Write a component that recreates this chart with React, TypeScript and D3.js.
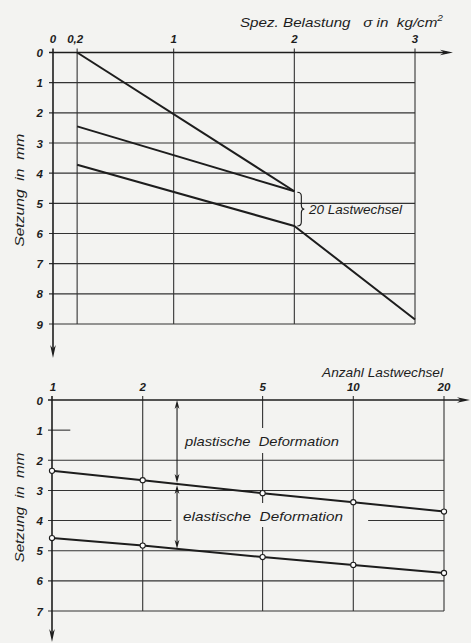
import * as d3 from "d3";

// top chart: load (kg/cm²) vs settlement (mm)
const stressTicks = [0, 0.2, 1, 2, 3];
const stressTickLabels = ["0", "0,2", "1", "2", "3"];
const settleTicksTop = [0, 1, 2, 3, 4, 5, 6, 7, 8, 9];
const firstLoading = [
  { s: 0.2, d: 0 },
  { s: 2, d: 4.6 },
];
const unloading = [
  { s: 0.2, d: 2.45 },
  { s: 2, d: 4.6 },
];
const reloading = [
  { s: 0.2, d: 3.72 },
  { s: 2, d: 5.75 },
  { s: 3, d: 8.85 },
];

// bottom chart: number of load cycles vs settlement
const cycleTicks = [1, 2, 5, 10, 20];
const settleTicksBottom = [0, 1, 2, 3, 4, 5, 6, 7];
const plasticSettle = [2.35, 2.66, 3.09, 3.39, 3.7];
const totalSettle = [4.58, 4.83, 5.21, 5.47, 5.74];
// grid rows that are only partly drawn (cycle ranges)
const partialRows = [
  { d: 1, spans: [[1, 1.15]] },
  { d: 4, spans: [[1, 2.49], [11.2, 20]] },
];
const dimensionAt = 2.6;

const ink = "#1d1d1d";
const gridInk = "#333";
const paper = "#f3f3f1";
const font = "'Liberation Sans', Arial, sans-serif";

function Arrow({ x, y, dir, len = 12, half = 3 }: { x: number; y: number; dir: "right" | "down" | "up"; len?: number; half?: number }) {
  let pts: [number, number][];
  if (dir === "right") pts = [[x, y], [x - len, y - half], [x - len * 0.7, y], [x - len, y + half]];
  else if (dir === "down") pts = [[x, y], [x - half, y - len], [x, y - len * 0.7], [x + half, y - len]];
  else pts = [[x, y], [x - half, y + len], [x, y + len * 0.7], [x + half, y + len]];
  return <polygon points={pts.map((p) => p.join(",")).join(" ")} fill={ink} />;
}

export default function App() {
  const xT = d3.scaleLinear().domain([0, 3]).range([53, 415]);
  const yT = d3.scaleLinear().domain([0, 9]).range([52.5, 324]);
  const xB = d3.scaleLog().domain([1, 20]).range([52, 444]);
  const yB = d3.scaleLinear().domain([0, 7]).range([400, 611]);

  const lineT = d3
    .line<{ s: number; d: number }>()
    .x((p) => xT(p.s))
    .y((p) => yT(p.d));
  const lineB = d3
    .line<number>()
    .x((_, i) => xB(cycleTicks[i]))
    .y((v) => yB(v));

  // settlement on a series at a given cycle count (log interpolation)
  const valueAt = (series: number[], n: number) => {
    const i = d3.bisectRight(cycleTicks, n) - 1;
    const t = Math.log(n / cycleTicks[i]) / Math.log(cycleTicks[i + 1] / cycleTicks[i]);
    return series[i] + t * (series[i + 1] - series[i]);
  };

  const tickText = { fontFamily: font, fontStyle: "italic", fontWeight: 700, fontSize: 11.5, fill: ink } as const;
  const labelText = { fontFamily: font, fontStyle: "italic", fontSize: 13.5, fill: ink, style: { whiteSpace: "pre" } } as const;

  const dimX = xB(dimensionAt);
  const dimMid = yB(valueAt(plasticSettle, dimensionAt));
  const dimEnd = yB(valueAt(totalSettle, dimensionAt));

  const braceX = xT(2) + 3;
  const b0 = yT(4.6) + 1;
  const b1 = yT(5.75);
  const bm = (b0 + b1) / 2;

  return (
    <div style={{ position: "absolute", left: 0, top: 0 }}>
      <svg width={471} height={643} viewBox="0 0 471 643" style={{ display: "block", background: paper }}>
        {/* ---------- top chart ---------- */}
        <g stroke={gridInk} strokeWidth={1.1} fill="none">
          {settleTicksTop.slice(1).map((d) => (
            <line key={`h${d}`} x1={xT(0) - 4} x2={xT(3)} y1={yT(d)} y2={yT(d)} />
          ))}
          {stressTicks.slice(1).map((s) => (
            <line key={`v${s}`} x1={xT(s)} x2={xT(s)} y1={yT(0) - 4} y2={yT(9)} />
          ))}
        </g>
        <g stroke={ink} strokeWidth={1.6}>
          <line x1={xT(0) - 4} x2={447} y1={yT(0)} y2={yT(0)} />
          <line x1={xT(0)} x2={xT(0)} y1={yT(0) - 4} y2={352} />
        </g>
        <Arrow x={453} y={yT(0)} dir="right" len={13} half={2.8} />
        <Arrow x={xT(0)} y={358} dir="down" len={13} half={2.8} />

        {stressTicks.map((s, i) => (
          <text key={s} x={xT(s) - (i === 1 ? 2 : 0)} y={43} textAnchor="middle" {...tickText}>
            {stressTickLabels[i]}
          </text>
        ))}
        {settleTicksTop.map((d) => (
          <text key={d} x={43} y={yT(d) + 4.5} textAnchor="end" {...tickText}>
            {d}
          </text>
        ))}

        <g stroke={ink} strokeWidth={2} fill="none" strokeLinejoin="round">
          <path d={lineT(firstLoading) ?? ""} />
          <path d={lineT(unloading) ?? ""} />
          <path d={lineT(reloading) ?? ""} />
        </g>

        <path
          d={`M${braceX},${b0} q4,0 4,4 v${bm - b0 - 8} q0,4 3,4 q-3,0 -3,4 v${b1 - bm - 8} q0,4 -4,4`}
          stroke={ink}
          strokeWidth={1.1}
          fill="none"
        />
        <text x={309} y={bm + 5} textLength={93} lengthAdjust="spacingAndGlyphs" {...labelText} fontSize={13}>
          20 Lastwechsel
        </text>

        <text x={240} y={27} textLength={203} lengthAdjust="spacingAndGlyphs" {...labelText}>
          Spez. Belastung{"   "}σ in{"  "}kg/cm
          <tspan dy={-6} fontSize={9}>2</tspan>
        </text>
        <text
          transform={`translate(24,${(yT(0) + yT(9)) / 2 + 2}) rotate(-90)`}
          textAnchor="middle"
          textLength={113}
          lengthAdjust="spacingAndGlyphs"
          {...labelText}
        >
          Setzung{"  "}in{"  "}mm
        </text>

        {/* ---------- bottom chart ---------- */}
        <g stroke={gridInk} strokeWidth={1.1} fill="none">
          {settleTicksBottom
            .slice(1)
            .filter((d) => !partialRows.some((r) => r.d === d))
            .map((d) => (
              <line key={`h${d}`} x1={xB(1) - 4} x2={xB(20)} y1={yB(d)} y2={yB(d)} />
            ))}
          {partialRows.map((r) =>
            r.spans.map(([a, b], j) => (
              <line key={`p${r.d}-${j}`} x1={xB(a) - (a === 1 ? 4 : 0)} x2={xB(b)} y1={yB(r.d)} y2={yB(r.d)} />
            ))
          )}
          {cycleTicks.slice(1).map((n) => (
            <line key={`v${n}`} x1={xB(n)} x2={xB(n)} y1={yB(0) - 4} y2={yB(7)} />
          ))}
        </g>

        {/* label masks */}
        <rect x={183} y={428} width={160} height={25} fill={paper} />
        <rect x={181} y={503} width={166} height={24} fill={paper} />

        <g stroke={ink} strokeWidth={1.6}>
          <line x1={xB(1) - 4} x2={464} y1={yB(0)} y2={yB(0)} />
          <line x1={xB(1)} x2={xB(1)} y1={yB(0) - 4} y2={636} />
        </g>
        <Arrow x={470} y={yB(0)} dir="right" len={13} half={2.8} />
        <Arrow x={xB(1)} y={642} dir="down" len={13} half={2.8} />

        {cycleTicks.map((n) => (
          <text key={n} x={xB(n) + (n === 1 ? 1 : 0)} y={391} textAnchor="middle" {...tickText}>
            {n}
          </text>
        ))}
        {settleTicksBottom.map((d) => (
          <text key={d} x={43} y={yB(d) + 4.5} textAnchor="end" {...tickText}>
            {d}
          </text>
        ))}

        <g stroke={ink} strokeWidth={2} fill="none">
          <path d={lineB(plasticSettle) ?? ""} />
          <path d={lineB(totalSettle) ?? ""} />
        </g>
        {[plasticSettle, totalSettle].map((series, k) =>
          series.map((v, i) => (
            <circle key={`c${k}-${i}`} cx={xB(cycleTicks[i])} cy={yB(v)} r={2.6} fill="#fff" stroke={ink} strokeWidth={1.1} />
          ))
        )}

        {/* dimension arrows */}
        <g stroke={ink} strokeWidth={1.1}>
          <line x1={dimX} x2={dimX} y1={yB(0) + 4} y2={dimMid - 4} />
          <line x1={dimX} x2={dimX} y1={dimMid + 4} y2={dimEnd - 4} />
        </g>
        <Arrow x={dimX} y={yB(0)} dir="up" len={9} half={2.4} />
        <Arrow x={dimX} y={dimMid - 1} dir="down" len={9} half={2.4} />
        <Arrow x={dimX} y={dimMid + 1} dir="up" len={9} half={2.4} />
        <Arrow x={dimX} y={dimEnd} dir="down" len={9} half={2.4} />

        <text x={185} y={446} textLength={154} lengthAdjust="spacingAndGlyphs" {...labelText}>
          plastische{"  "}Deformation
        </text>
        <text x={183} y={521} textLength={160} lengthAdjust="spacingAndGlyphs" {...labelText}>
          elastische{"  "}Deformation
        </text>
        <text x={322} y={377} textLength={121} lengthAdjust="spacingAndGlyphs" {...labelText} fontSize={13}>
          Anzahl Lastwechsel
        </text>
        <text
          transform={`translate(24,${(yB(0) + yB(7)) / 2 + 2}) rotate(-90)`}
          textAnchor="middle"
          textLength={110}
          lengthAdjust="spacingAndGlyphs"
          {...labelText}
        >
          Setzung{"  "}in{"  "}mm
        </text>
      </svg>
    </div>
  );
}
